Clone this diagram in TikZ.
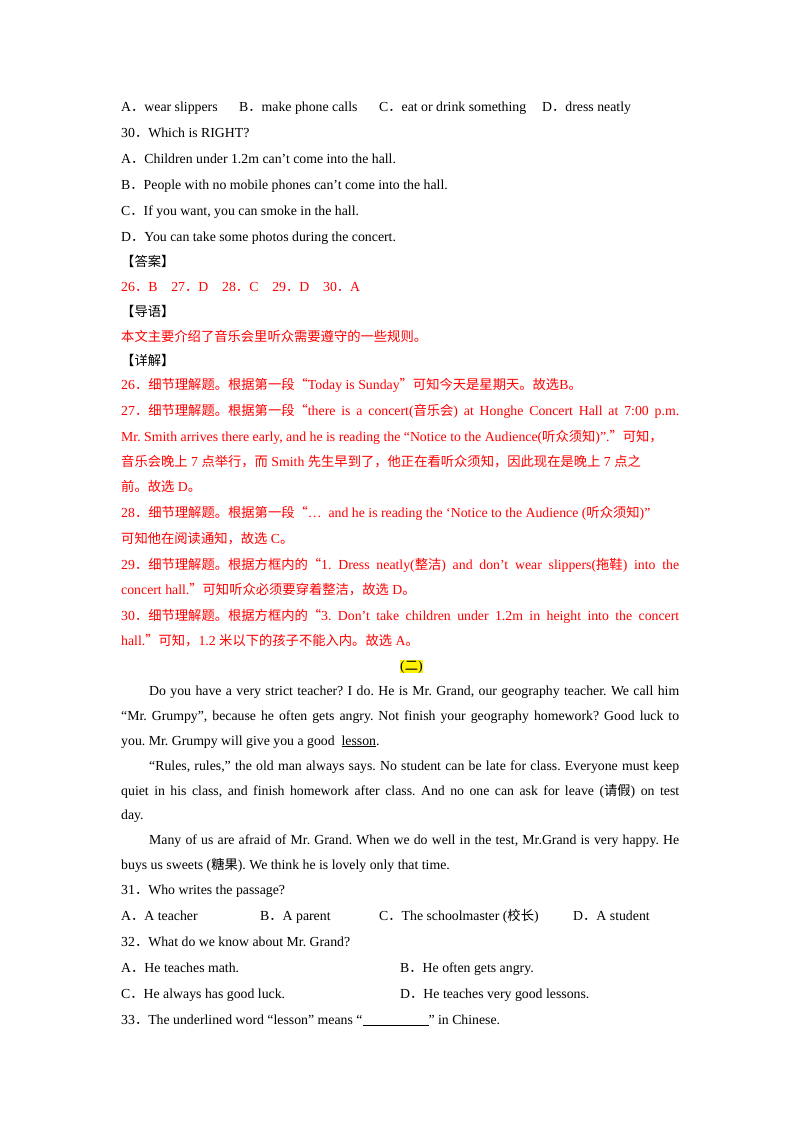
\documentclass[tikz,border=0pt]{standalone}
\usepackage{fontspec}
\setmainfont{Liberation Serif}
\newfontfamily\cjk{Noto Sans CJK SC}
\frenchspacing
\newcommand\zh[1]{{\cjk\fontsize{13.3}{15}\selectfont #1}}
\newcommand\fl[1]{\makebox[558pt][s]{#1}}
\newcommand\il[1]{\makebox[530pt][s]{#1}}
\begin{document}
\begin{tikzpicture}[x=1pt,y=-1pt,
  txt/.style={anchor=base west,inner sep=0,yshift=-5pt,font=\fontsize{13.8}{15}\selectfont},
  ans/.style={txt,text=red}]
\useasboundingbox[fill=white] (0,0) rectangle (800,1132);

% questions 29-30
\node[txt] (a29) at (121,106) {A\zh{．}wear slippers};
\node[txt] (b29) at (239,106) {B\zh{．}make phone calls};
\node[txt] (c29) at (379,106) {C\zh{．}eat or drink something};
\node[txt] (d29) at (542,106) {D\zh{．}dress neatly};
\node[txt] (q30) at (121,132) {30\zh{．}Which is RIGHT?};
\node[txt] (a30) at (121,158) {A\zh{．}Children under 1.2m can’t come into the hall.};
\node[txt] (b30) at (121,184) {B\zh{．}People with no mobile phones can’t come into the hall.};
\node[txt] (c30) at (121,210) {C\zh{．}If you want, you can smoke in the hall.};
\node[txt] (d30) at (121,236) {D\zh{．}You can take some photos during the concert.};

% answers
\node[txt] (da) at (121,261) {\zh{【答案】}};
\node[ans] (key) at (121,286) {26\zh{．}B\quad 27\zh{．}D\quad 28\zh{．}C\quad 29\zh{．}D\quad 30\zh{．}A};
\node[txt] (dy) at (121,311) {\zh{【导语】}};
\node[ans] (gist) at (121,336) {\zh{本文主要介绍了音乐会里听众需要遵守的一些规则。}};
\node[txt] (xj) at (121,360) {\zh{【详解】}};
\node[ans] (e26) at (121,384) {26\zh{．细节理解题。根据第一段“}Today is Sunday\zh{”可知今天是星期天。故选}B\zh{。}};
\node[ans] (e27a) at (121,410) {\fl{27\zh{．细节理解题。根据第一段“}there is a concert(\zh{音乐会}) at Honghe Concert Hall at 7:00 p.m.}};
\node[ans] (e27b) at (121,436) {Mr. Smith arrives there early, and he is reading the “Notice to the Audience(\zh{听众须知})”.\zh{”可知，}};
\node[ans] (e27c) at (121,461) {\zh{音乐会晚上}~7~\zh{点举行，而}~Smith~\zh{先生早到了，他正在看听众须知，因此现在是晚上}~7~\zh{点之}};
\node[ans] (e27d) at (121,486) {\zh{前。故选}~D\zh{。}};
\node[ans] (e28a) at (121,512) {28\zh{．细节理解题。根据第一段“}…\ \ and he is reading the ‘Notice to the Audience (\zh{听众须知})”};
\node[ans] (e28b) at (121,538) {\zh{可知他在阅读通知，故选}~C\zh{。}};
\node[ans] (e29a) at (121,564) {\fl{29\zh{．细节理解题。根据方框内的“}1. Dress neatly(\zh{整洁}) and don’t wear slippers(\zh{拖鞋}) into the}};
\node[ans] (e29b) at (121,589) {concert hall.\zh{”可知听众必须要穿着整洁，故选}~D\zh{。}};
\node[ans] (e30a) at (121,615) {\fl{30\zh{．细节理解题。根据方框内的“}3. Don’t take children under 1.2m in height into the concert}};
\node[ans] (e30b) at (121,640) {hall.\zh{”可知，}1.2~\zh{米以下的孩子不能入内。故选}~A\zh{。}};

% passage two
\node[txt,fill=yellow] (two) at (400,665) {(\zh{二})};
\node[txt] (p1a) at (149,690) {\il{Do you have a very strict teacher? I do. He is Mr. Grand, our geography teacher. We call him}};
\node[txt] (p1b) at (121,715) {\fl{“Mr. Grumpy”, because he often gets angry. Not finish your geography homework? Good luck to}};
\node[txt] (p1c) at (121,740) {you. Mr. Grumpy will give you a good \ \underline{lesson}.};
\node[txt] (p2a) at (149,765) {\il{“Rules, rules,” the old man always says. No student can be late for class. Everyone must keep}};
\node[txt] (p2b) at (121,790) {\fl{quiet in his class, and finish homework after class. And no one can ask for leave (\zh{请假}) on test}};
\node[txt] (p2c) at (121,814) {day.};
\node[txt] (p3a) at (149,839) {\il{Many of us are afraid of Mr. Grand. When we do well in the test, Mr.Grand is very happy. He}};
\node[txt] (p3b) at (121,864) {buys us sweets (\zh{糖果}). We think he is lovely only that time.};

% questions 31-33
\node[txt] (q31) at (121,889) {31\zh{．}Who writes the passage?};
\node[txt] (a31) at (121,915) {A\zh{．}A teacher};
\node[txt] (b31) at (260,915) {B\zh{．}A parent};
\node[txt] (c31) at (379,915) {C\zh{．}The schoolmaster (\zh{校长})};
\node[txt] (d31) at (573,915) {D\zh{．}A student};
\node[txt] (q32) at (121,941) {32\zh{．}What do we know about Mr. Grand?};
\node[txt] (a32) at (121,967) {A\zh{．}He teaches math.};
\node[txt] (b32) at (400,967) {B\zh{．}He often gets angry.};
\node[txt] (c32) at (121,993) {C\zh{．}He always has good luck.};
\node[txt] (d32) at (400,993) {D\zh{．}He teaches very good lessons.};
\node[txt] (q33) at (121,1019) {33\zh{．}The underlined word “lesson” means “\underline{\hspace{66pt}}” in Chinese.};
\end{tikzpicture}
\end{document}
